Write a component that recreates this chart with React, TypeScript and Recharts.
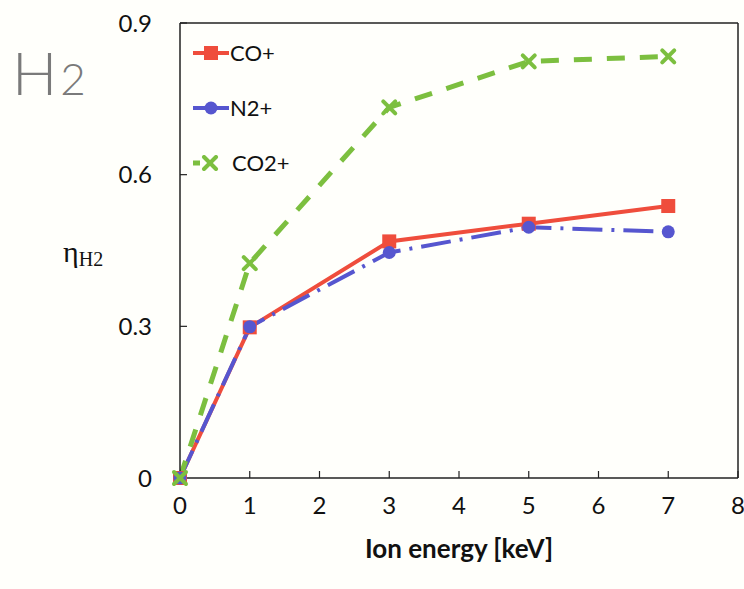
import { LineChart, Line, XAxis, YAxis, ReferenceLine } from "recharts"

const RED = "#ef4d3c"
const BLUE = "#5656cf"
const GREEN = "#7cbf3f"
const AXIS = "#222"
const FONT = "Lato, 'Open Sans', sans-serif"

// ion energy in keV
const energy = [0, 1, 3, 5, 7]
const coPlus = [0, 0.298, 0.468, 0.503, 0.538]
const n2Plus = [0, 0.299, 0.446, 0.496, 0.487]
const co2Plus = [0, 0.425, 0.733, 0.824, 0.834]

const xTicks = [0, 1, 2, 3, 4, 5, 6, 7, 8]
const yTicks = [0, 0.3, 0.6, 0.9]

const data = energy.map((e, i) => ({
  e,
  co: coPlus[i],
  n2: n2Plus[i],
  co2: co2Plus[i],
}))

const series = [
  { key: "co", name: "CO+", color: RED },
  { key: "n2", name: "N2+", color: BLUE },
  { key: "co2", name: "CO2+", color: GREEN },
]

function SquareDot(props: any) {
  const { cx, cy } = props
  if (cx == null || cy == null) return null
  return <rect x={cx - 7} y={cy - 7} width={14} height={14} fill={RED} />
}

function CircleDot(props: any) {
  const { cx, cy } = props
  if (cx == null || cy == null) return null
  return <circle cx={cx} cy={cy} r={6.5} fill={BLUE} />
}

function CrossDot(props: any) {
  const { cx, cy } = props
  if (cx == null || cy == null) return null
  const s = 6
  return (
    <g stroke={GREEN} strokeWidth={4} strokeLinecap="round">
      <line x1={cx - s} y1={cy - s} x2={cx + s} y2={cy + s} />
      <line x1={cx - s} y1={cy + s} x2={cx + s} y2={cy - s} />
    </g>
  )
}

function LegendIcon({ k }: { k: string }) {
  if (k === "co") {
    return (
      <svg width={36} height={16}>
        <line x1={0} y1={8} x2={36} y2={8} stroke={RED} strokeWidth={4} />
        <rect x={11} y={1} width={14} height={14} fill={RED} />
      </svg>
    )
  }
  if (k === "n2") {
    return (
      <svg width={36} height={16}>
        <line x1={0} y1={8} x2={36} y2={8} stroke={BLUE} strokeWidth={4} />
        <circle cx={18} cy={8} r={6.5} fill={BLUE} />
      </svg>
    )
  }
  return (
    <svg width={36} height={16}>
      <line x1={0} y1={8} x2={7} y2={8} stroke={GREEN} strokeWidth={5} />
      <g stroke={GREEN} strokeWidth={4} strokeLinecap="round">
        <line x1={11} y1={2} x2={23} y2={14} />
        <line x1={11} y1={14} x2={23} y2={2} />
      </g>
    </svg>
  )
}

// legend sits inside the plot frame, top-left
function LegendBox() {
  return (
    <div
      style={{
        position: "absolute",
        left: 193,
        top: 25,
        fontFamily: FONT,
        fontSize: 22,
        color: "#111",
      }}
    >
      {series.map((s) => (
        <div key={s.key} style={{ display: "flex", alignItems: "center", height: 55 }}>
          <LegendIcon k={s.key} />
          <span style={{ marginLeft: s.key === "co2" ? 3 : 1 }}>{s.name}</span>
        </div>
      ))}
    </div>
  )
}

function EtaLabel(props: any) {
  const vb = props.viewBox
  const x = vb.x + 63
  const y = vb.y + vb.height / 2 + 11
  return (
    <text x={x} y={y} fontFamily="'Liberation Serif', 'DejaVu Serif', serif" fill="#111">
      <tspan fontSize={30}>η</tspan>
      <tspan fontSize={20} dy={4}>H2</tspan>
    </text>
  )
}

export default function App() {
  return (
    <div style={{ position: "absolute", left: 0, top: 0, width: 744, height: 589, background: "#fffffb" }}>
      <div
        style={{
          position: "absolute",
          left: 12,
          top: 36,
          fontFamily: "Lato, sans-serif",
          fontWeight: 300,
          color: "#7a7a7a",
          fontSize: 60,
          letterSpacing: 3,
        }}
      >
        H<span style={{ fontSize: 44 }}>2</span>
      </div>
      <LineChart
        width={744}
        height={589}
        data={data}
        margin={{ top: 23, right: 6, bottom: 29, left: 0 }}
        style={{ position: "absolute", left: 0, top: 0 }}
      >
        <XAxis
          dataKey="e"
          type="number"
          domain={[0, 8]}
          ticks={xTicks}
          interval={0}
          height={82}
          tickSize={-7}
          tickMargin={26}
          axisLine={{ stroke: AXIS, strokeWidth: 1.5 }}
          tickLine={{ stroke: AXIS, strokeWidth: 1.2 }}
          tick={{ fill: "#111", fontSize: 24, fontFamily: FONT }}
          label={{
            value: "Ion energy [keV]",
            position: "insideBottom",
            offset: 2,
            fill: "#111",
            fontSize: 26,
            fontWeight: 700,
            fontFamily: FONT,
          }}
        />
        <YAxis
          type="number"
          domain={[0, 0.9]}
          ticks={yTicks}
          interval={0}
          width={180}
          tickSize={-7}
          tickMargin={35}
          axisLine={{ stroke: AXIS, strokeWidth: 1.5 }}
          tickLine={{ stroke: AXIS, strokeWidth: 1.2 }}
          tick={{ fill: "#111", fontSize: 24, fontFamily: FONT }}
          tickFormatter={(v: number) => (v === 0 ? "0" : String(v))}
          label={<EtaLabel />}
        />
        <ReferenceLine y={0.9} stroke={AXIS} strokeWidth={1.5} />
        <ReferenceLine x={8} stroke={AXIS} strokeWidth={1.5} />
        <Line
          dataKey="co"
          name="CO+"
          stroke={RED}
          strokeWidth={4}
          dot={<SquareDot />}
          isAnimationActive={false}
        />
        <Line
          dataKey="n2"
          name="N2+"
          stroke={BLUE}
          strokeWidth={4}
          strokeDasharray="30 9 3 9"
          dot={<CircleDot />}
          isAnimationActive={false}
        />
        <Line
          dataKey="co2"
          name="CO2+"
          stroke={GREEN}
          strokeWidth={5}
          strokeDasharray="18 15"
          dot={<CrossDot />}
          isAnimationActive={false}
        />
      </LineChart>
      <LegendBox />
    </div>
  )
}
